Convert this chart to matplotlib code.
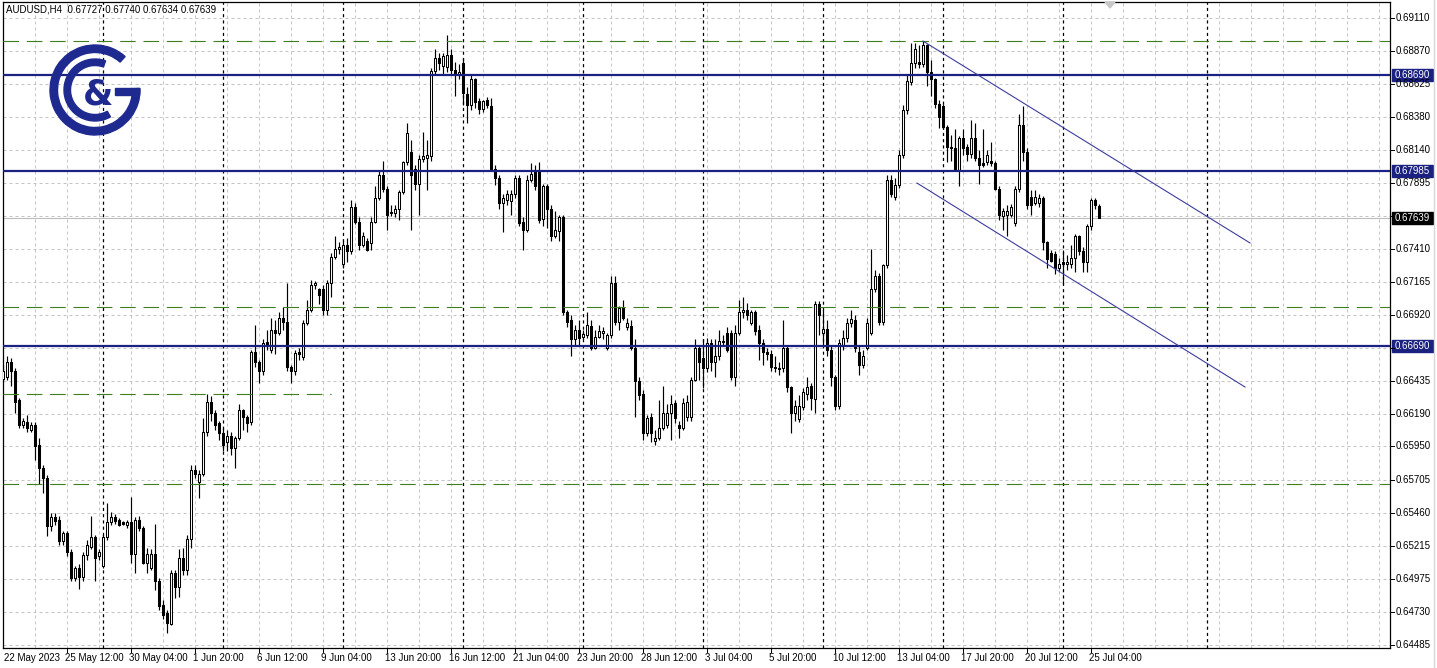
import matplotlib

matplotlib.use("Agg")
import matplotlib.pyplot as plt  # noqa: E402
import numpy as np  # noqa: E402
from matplotlib.collections import PatchCollection  # noqa: E402
from matplotlib.patches import Polygon, Rectangle, Wedge  # noqa: E402

# AUDUSD H4, 22 May 2023 20:00 .. 25 Jul 2023 12:00
opens = [
    0.6645, 0.6646, 0.6657, 0.6651, 0.6629, 0.6611, 0.6613, 0.6607, 0.6611, 0.6596,
    0.6579, 0.6572, 0.6536, 0.6543, 0.6541, 0.6525, 0.6531, 0.6517, 0.6498, 0.6505,
    0.6499, 0.6515, 0.6521, 0.6528, 0.6514, 0.6507, 0.6528, 0.6539, 0.6543, 0.6541,
    0.6539, 0.6537, 0.6539, 0.6516, 0.6541, 0.6535, 0.6509, 0.6505, 0.6516, 0.6496,
    0.6478, 0.6472, 0.6464, 0.6502, 0.6491, 0.6513, 0.6504, 0.6527, 0.6578, 0.6569,
    0.6575, 0.6606, 0.6628, 0.6620, 0.6612, 0.6605, 0.6598, 0.6603, 0.6594, 0.6601,
    0.6622, 0.6617, 0.6613, 0.6665, 0.6657, 0.6651, 0.6672, 0.6666, 0.6681, 0.6679,
    0.6690, 0.6687, 0.6654, 0.6651, 0.6665, 0.6661, 0.6686, 0.6696, 0.6714, 0.6711,
    0.6711, 0.6696, 0.6716, 0.6735, 0.6741, 0.6730, 0.6744, 0.6739, 0.6772, 0.6761,
    0.6744, 0.6747, 0.6745, 0.6761, 0.6778, 0.6795, 0.6785, 0.6768, 0.6767, 0.6770,
    0.6783, 0.6805, 0.6812, 0.6800, 0.6789, 0.6807, 0.6808, 0.6809, 0.6872, 0.6882,
    0.6876, 0.6875, 0.6884, 0.6873, 0.6869, 0.6878, 0.6855, 0.6847, 0.6866, 0.6850,
    0.6844, 0.6851, 0.6846, 0.6800, 0.6793, 0.6775, 0.6777, 0.6776, 0.6781, 0.6793,
    0.6761, 0.6755, 0.6792, 0.6798, 0.6798, 0.6763, 0.6787, 0.6770, 0.6750, 0.6754,
    0.6764, 0.6694, 0.6688, 0.6674, 0.6681, 0.6676, 0.6677, 0.6684, 0.6668, 0.6676,
    0.6679, 0.6668, 0.6677, 0.6716, 0.6687, 0.6697, 0.6683, 0.6684, 0.6668, 0.6643,
    0.6634, 0.6605, 0.6617, 0.6599, 0.6601, 0.6609, 0.6611, 0.6620, 0.6627, 0.6611,
    0.6609, 0.6617, 0.6617, 0.6644, 0.6668, 0.6660, 0.6653, 0.6671, 0.6657, 0.6662,
    0.6672, 0.6679, 0.6679, 0.6646, 0.6679, 0.6694, 0.6696, 0.6686, 0.6694, 0.6681,
    0.6671, 0.6665, 0.6663, 0.6654, 0.6653, 0.6653, 0.6668, 0.6639, 0.6620, 0.6615,
    0.6624, 0.6634, 0.6640, 0.6630, 0.6700, 0.6679, 0.6682, 0.6666, 0.6646, 0.6625,
    0.6670, 0.6675, 0.6686, 0.6688, 0.6665, 0.6655, 0.6668, 0.6679, 0.6711, 0.6721,
    0.6687, 0.6729, 0.6792, 0.6779, 0.6788, 0.6810, 0.6843, 0.6864, 0.6878, 0.6879,
    0.6877, 0.6891, 0.6871, 0.6866, 0.6848, 0.6846, 0.6831, 0.6816, 0.6815, 0.6799,
    0.6823, 0.6816, 0.6811, 0.6823, 0.6808, 0.6804, 0.6805, 0.6806, 0.6804, 0.6785,
    0.6765, 0.6766, 0.6766, 0.6760, 0.6785, 0.6832, 0.6812, 0.6779, 0.6775, 0.6775,
    0.6778, 0.6746, 0.6738, 0.6737, 0.6727, 0.6731, 0.6730, 0.6730, 0.6734, 0.6750,
    0.6739, 0.6731, 0.6758, 0.6777, 0.67727,
]
highs = [
    0.6655, 0.6662, 0.6660, 0.6653, 0.6631, 0.6616, 0.6618, 0.6613, 0.6613, 0.6601,
    0.6581, 0.6574, 0.6546, 0.6546, 0.6544, 0.6533, 0.6533, 0.6519, 0.6507, 0.6508,
    0.6517, 0.6526, 0.6544, 0.6530, 0.6519, 0.6530, 0.6553, 0.6547, 0.6545, 0.6542,
    0.6540, 0.6541, 0.6558, 0.6543, 0.6544, 0.6536, 0.6520, 0.6519, 0.6538, 0.6498,
    0.6482, 0.6474, 0.6504, 0.6504, 0.6519, 0.6520, 0.6530, 0.6581, 0.6581, 0.6578,
    0.6616, 0.6634, 0.6632, 0.6622, 0.6614, 0.6609, 0.6607, 0.6606, 0.6603, 0.6626,
    0.6623, 0.6618, 0.6666, 0.6685, 0.6659, 0.6674, 0.6681, 0.6690, 0.6688, 0.6694,
    0.6698, 0.6716, 0.6655, 0.6666, 0.6668, 0.6688, 0.6703, 0.6718, 0.6717, 0.6712,
    0.6714, 0.6718, 0.6738, 0.6750, 0.6746, 0.6747, 0.6749, 0.6777, 0.6775, 0.6764,
    0.6753, 0.6749, 0.6764, 0.6787, 0.6798, 0.6806, 0.6787, 0.6773, 0.6773, 0.6784,
    0.6806, 0.6834, 0.6821, 0.6803, 0.6810, 0.6827, 0.6821, 0.6874, 0.6888, 0.6885,
    0.6885, 0.6899, 0.6888, 0.6879, 0.6877, 0.6882, 0.6860, 0.6869, 0.6867, 0.6852,
    0.6851, 0.6853, 0.6852, 0.6803, 0.6795, 0.6781, 0.6784, 0.6784, 0.6795, 0.6795,
    0.6764, 0.6795, 0.6804, 0.6803, 0.6805, 0.6789, 0.6789, 0.6773, 0.6769, 0.6766,
    0.6766, 0.6696, 0.6692, 0.6685, 0.6688, 0.6681, 0.6694, 0.6688, 0.6681, 0.6685,
    0.6683, 0.6679, 0.6721, 0.6721, 0.6699, 0.6703, 0.6690, 0.6688, 0.6674, 0.6646,
    0.6637, 0.6618, 0.6620, 0.6607, 0.6629, 0.6640, 0.6626, 0.6633, 0.6629, 0.6614,
    0.6631, 0.6633, 0.6646, 0.6674, 0.6670, 0.6674, 0.6675, 0.6674, 0.6674, 0.6681,
    0.6677, 0.6683, 0.6681, 0.6685, 0.6703, 0.6705, 0.6701, 0.6696, 0.6696, 0.6685,
    0.6674, 0.6668, 0.6666, 0.6662, 0.6657, 0.6688, 0.6670, 0.6640, 0.6629, 0.6633,
    0.6638, 0.6646, 0.6642, 0.6702, 0.6702, 0.6696, 0.6688, 0.6670, 0.6648, 0.6674,
    0.6681, 0.6690, 0.6696, 0.6692, 0.6670, 0.6666, 0.6690, 0.6741, 0.6725, 0.6723,
    0.6730, 0.6795, 0.6795, 0.6793, 0.6814, 0.6847, 0.6869, 0.6893, 0.6893, 0.6891,
    0.6894, 0.6892, 0.6880, 0.6867, 0.6851, 0.6848, 0.6832, 0.6825, 0.6829, 0.6824,
    0.6829, 0.6818, 0.6836, 0.6834, 0.6814, 0.6829, 0.6814, 0.6820, 0.6806, 0.6787,
    0.6771, 0.6773, 0.6774, 0.6787, 0.6840, 0.6846, 0.6815, 0.6784, 0.6784, 0.6781,
    0.6780, 0.6747, 0.6740, 0.6739, 0.6734, 0.6740, 0.6736, 0.6744, 0.6752, 0.6751,
    0.6742, 0.6759, 0.6778, 0.6778, 0.67740,
]
lows = [
    0.6643, 0.6644, 0.6640, 0.6620, 0.6609, 0.6609, 0.6606, 0.6606, 0.6585, 0.6567,
    0.6561, 0.6529, 0.6533, 0.6537, 0.6522, 0.6522, 0.6514, 0.6496, 0.6496, 0.6490,
    0.6496, 0.6511, 0.6519, 0.6496, 0.6511, 0.6505, 0.6526, 0.6537, 0.6538, 0.6536,
    0.6537, 0.6535, 0.6509, 0.6502, 0.6533, 0.6508, 0.6502, 0.6504, 0.6489, 0.6474,
    0.6468, 0.6457, 0.6463, 0.6483, 0.6484, 0.6500, 0.6500, 0.6520, 0.6572, 0.6557,
    0.6573, 0.6603, 0.6614, 0.6607, 0.6600, 0.6592, 0.6592, 0.6589, 0.6579, 0.6600,
    0.6607, 0.6606, 0.6611, 0.6654, 0.6642, 0.6648, 0.6666, 0.6664, 0.6663, 0.6677,
    0.6681, 0.6651, 0.6642, 0.6648, 0.6659, 0.6659, 0.6685, 0.6694, 0.6711, 0.6700,
    0.6692, 0.6692, 0.6705, 0.6733, 0.6737, 0.6727, 0.6731, 0.6737, 0.6759, 0.6740,
    0.6742, 0.6739, 0.6740, 0.6760, 0.6777, 0.6783, 0.6755, 0.6765, 0.6764, 0.6762,
    0.6781, 0.6803, 0.6755, 0.6784, 0.6766, 0.6805, 0.6784, 0.6806, 0.6869, 0.6873,
    0.6870, 0.6871, 0.6869, 0.6854, 0.6866, 0.6847, 0.6834, 0.6843, 0.6845, 0.6840,
    0.6842, 0.6845, 0.6798, 0.6788, 0.6770, 0.6753, 0.6773, 0.6766, 0.6778, 0.6758,
    0.6740, 0.6753, 0.6790, 0.6784, 0.6760, 0.6758, 0.6756, 0.6747, 0.6749, 0.6747,
    0.6692, 0.6683, 0.6662, 0.6670, 0.6670, 0.6674, 0.6675, 0.6666, 0.6667, 0.6675,
    0.6674, 0.6666, 0.6675, 0.6685, 0.6681, 0.6688, 0.6681, 0.6666, 0.6617, 0.6629,
    0.6600, 0.6603, 0.6598, 0.6596, 0.6600, 0.6607, 0.6609, 0.6600, 0.6612, 0.6601,
    0.6607, 0.6614, 0.6614, 0.6643, 0.6644, 0.6638, 0.6650, 0.6651, 0.6646, 0.6659,
    0.6670, 0.6665, 0.6644, 0.6640, 0.6677, 0.6690, 0.6688, 0.6685, 0.6677, 0.6659,
    0.6655, 0.6659, 0.6651, 0.6650, 0.6648, 0.6650, 0.6635, 0.6605, 0.6614, 0.6613,
    0.6622, 0.6629, 0.6622, 0.6620, 0.6677, 0.6670, 0.6662, 0.6640, 0.6622, 0.6623,
    0.6666, 0.6672, 0.6683, 0.6665, 0.6648, 0.6653, 0.6666, 0.6677, 0.6709, 0.6685,
    0.6685, 0.6727, 0.6779, 0.6777, 0.6786, 0.6808, 0.6840, 0.6862, 0.6874, 0.6874,
    0.6875, 0.6861, 0.6854, 0.6845, 0.6830, 0.6829, 0.6805, 0.6806, 0.6798, 0.6787,
    0.6810, 0.6806, 0.6808, 0.6806, 0.6789, 0.6801, 0.6803, 0.6802, 0.6784, 0.6762,
    0.6755, 0.6750, 0.6764, 0.6758, 0.6783, 0.6806, 0.6770, 0.6766, 0.6773, 0.6772,
    0.6740, 0.6727, 0.6731, 0.6722, 0.6724, 0.6715, 0.6725, 0.6727, 0.6724, 0.6736,
    0.6724, 0.6724, 0.6755, 0.6770, 0.67634,
]
closes = [
    0.6651, 0.6657, 0.6651, 0.6628, 0.6611, 0.6614, 0.6609, 0.6611, 0.6595, 0.6579,
    0.6572, 0.6536, 0.6543, 0.6540, 0.6525, 0.6531, 0.6517, 0.6498, 0.6505, 0.6499,
    0.6515, 0.6522, 0.6528, 0.6513, 0.6517, 0.6528, 0.6539, 0.6543, 0.6540, 0.6537,
    0.6538, 0.6539, 0.6516, 0.6541, 0.6535, 0.6509, 0.6516, 0.6516, 0.6496, 0.6477,
    0.6471, 0.6465, 0.6502, 0.6491, 0.6513, 0.6504, 0.6527, 0.6578, 0.6575, 0.6575,
    0.6606, 0.6628, 0.6620, 0.6611, 0.6605, 0.6596, 0.6603, 0.6594, 0.6601, 0.6622,
    0.6617, 0.6612, 0.6665, 0.6657, 0.6651, 0.6671, 0.6670, 0.6681, 0.6679, 0.6690,
    0.6687, 0.6654, 0.6651, 0.6664, 0.6663, 0.6686, 0.6696, 0.6714, 0.6716, 0.6707,
    0.6696, 0.6716, 0.6735, 0.6741, 0.6742, 0.6744, 0.6739, 0.6772, 0.6761, 0.6744,
    0.6750, 0.6740, 0.6761, 0.6778, 0.6795, 0.6785, 0.6766, 0.6767, 0.6770, 0.6783,
    0.6805, 0.6826, 0.6795, 0.6789, 0.6807, 0.6809, 0.6810, 0.6872, 0.6882, 0.6878,
    0.6883, 0.6884, 0.6873, 0.6870, 0.6871, 0.6856, 0.6847, 0.6866, 0.6849, 0.6844,
    0.6850, 0.6847, 0.6800, 0.6793, 0.6775, 0.6778, 0.6781, 0.6781, 0.6793, 0.6760,
    0.6755, 0.6792, 0.6796, 0.6787, 0.6762, 0.6787, 0.6770, 0.6750, 0.6755, 0.6764,
    0.6694, 0.6687, 0.6674, 0.6681, 0.6675, 0.6678, 0.6685, 0.6668, 0.6676, 0.6680,
    0.6680, 0.6677, 0.6716, 0.6687, 0.6697, 0.6690, 0.6686, 0.6668, 0.6643, 0.6633,
    0.6605, 0.6616, 0.6605, 0.6601, 0.6609, 0.6620, 0.6620, 0.6626, 0.6616, 0.6609,
    0.6627, 0.6628, 0.6644, 0.6668, 0.6657, 0.6653, 0.6671, 0.6657, 0.6662, 0.6673,
    0.6673, 0.6666, 0.6646, 0.6679, 0.6694, 0.6696, 0.6692, 0.6694, 0.6680, 0.6671,
    0.6665, 0.6663, 0.6654, 0.6653, 0.6652, 0.6668, 0.6639, 0.6620, 0.6625, 0.6625,
    0.6635, 0.6639, 0.6631, 0.6700, 0.6692, 0.6682, 0.6666, 0.6646, 0.6625, 0.6671,
    0.6675, 0.6686, 0.6689, 0.6668, 0.6655, 0.6662, 0.6686, 0.6711, 0.6721, 0.6687,
    0.6729, 0.6792, 0.6781, 0.6788, 0.6810, 0.6843, 0.6865, 0.6878, 0.6888, 0.6877,
    0.6891, 0.6871, 0.6866, 0.6848, 0.6838, 0.6831, 0.6816, 0.6815, 0.6799, 0.6823,
    0.6815, 0.6811, 0.6823, 0.6808, 0.6803, 0.6803, 0.6810, 0.6804, 0.6785, 0.6766,
    0.6769, 0.6769, 0.6772, 0.6785, 0.6832, 0.6812, 0.6773, 0.6773, 0.6779, 0.6778,
    0.6746, 0.6733, 0.6732, 0.6727, 0.6730, 0.6730, 0.6731, 0.6734, 0.6750, 0.6739,
    0.6731, 0.6758, 0.6777, 0.6773, 0.67639,
]

date_labels = ["22 May 2023", "25 May 12:00", "30 May 04:00", "1 Jun 20:00", "6 Jun 12:00",
               "9 Jun 04:00", "13 Jun 20:00", "16 Jun 12:00", "21 Jun 04:00", "23 Jun 20:00",
               "28 Jun 12:00", "3 Jul 04:00", "5 Jul 20:00", "10 Jul 12:00", "13 Jul 04:00",
               "17 Jul 20:00", "20 Jul 12:00", "25 Jul 04:00"]
price_grid = [0.69110, 0.68870, 0.68625, 0.68380, 0.68140, 0.67895, 0.67650, 0.67410,
              0.67165, 0.66920, 0.66680, 0.66435, 0.66190, 0.65950, 0.65705, 0.65460,
              0.65215, 0.64975, 0.64730, 0.64485]
hidden_grid_labels = [0.67650, 0.66680]
levels = [0.68690, 0.67985, 0.66690]          # solid navy horizontal lines
dashed_levels = [0.68940, 0.66978, 0.65673]   # green dashed lines
short_dashed = 0.66337                        # short green dashed segment on the left
last_price = 0.67639
# channel: (bar, price) end points
chan_upper = [(230.0, 0.68942), (311.75, 0.67452)]
chan_lower = [(228.5, 0.67894), (310.5, 0.66389)]

W, H = 1437, 668
NAVY = "#1b2180"
LOGO = "#1f2a90"
GREEN = "#3f7f1f"
GRID = "#c4c4c4"

fig = plt.figure(figsize=(W / 100, H / 100), dpi=100)
fig.patch.set_facecolor("white")
ax = fig.add_axes([2.5 / W, (H - 648) / H, (1390 - 2.5) / W, (648 - 2) / H])
ax.set_xlim(-0.125, 346.75)
ax.set_ylim(0.64463, 0.69230)
ax.set_xticks([])
ax.set_yticks([])
for s in ax.spines.values():
    s.set_linewidth(0.9)
    s.set_color("black")

n = len(closes)
x = np.arange(n)

# grid
for gx in range(0, 347, 8):
    ax.axvline(gx, color=GRID, lw=0.72, dashes=(3, 3), zorder=0)
for gy in price_grid:
    ax.axhline(gy, color=GRID, lw=0.72, dashes=(3, 3), zorder=0)

# weekly separators
for sx in list(range(25, 270, 30)) + [301]:
    ax.axvline(sx, color="black", lw=0.9, dashes=(2.5, 2.5), zorder=1)

# bid line
ax.axhline(last_price, color="#bdbdbd", lw=0.8, zorder=1)

# candles
o = np.array(opens)
c = np.array(closes)
ax.vlines(x, lows, highs, color="black", lw=0.85, zorder=3)
up_rects, dn_rects = [], []
for xi, oi, ci in zip(x, o, c):
    lo, hi = min(oi, ci), max(oi, ci)
    r = Rectangle((xi - 0.25, lo), 0.5, max(hi - lo, 0.00002))
    (up_rects if ci >= oi else dn_rects).append(r)
ax.add_collection(PatchCollection(up_rects, facecolor="white", edgecolor="black",
                                  linewidth=0.75, zorder=4))
ax.add_collection(PatchCollection(dn_rects, facecolor="black", edgecolor="black",
                                  linewidth=0.75, zorder=4))

# levels
for lv in levels:
    ax.axhline(lv, color=NAVY, lw=1.6, zorder=5)
for dl in dashed_levels:
    ax.axhline(dl, color=GREEN, lw=0.8, dashes=(14, 7), zorder=5)
ax.plot([-0.125, 82], [short_dashed, short_dashed], color=GREEN, lw=0.8,
        dashes=(14, 7), zorder=5)
for ch in (chan_upper, chan_lower):
    ax.plot([ch[0][0], ch[1][0]], [ch[0][1], ch[1][1]], color="#3d3d9e", lw=0.8, zorder=5)

# price axis
ymin, ymax = ax.get_ylim()


def ypix(p):
    return (p - ymin) / (ymax - ymin) * (648 - 2) + (H - 648)


fs = 7
for gy in price_grid:
    yy = ypix(gy) / H
    fig.add_artist(plt.Line2D([1390 / W, 1394 / W], [yy, yy], color="black", lw=0.7))
    if gy in hidden_grid_labels:
        continue
    fig.text(1396 / W, yy, f"{gy:.5f}", fontsize=fs, family="Liberation Sans",
             va="center", ha="left")

for lv, bg in [(0.68690, NAVY), (0.67985, NAVY), (0.66690, NAVY), (last_price, "black")]:
    yy = ypix(lv) / H
    fig.add_artist(Rectangle((1392 / W, yy - 6 / H), 41 / W, 12 / H, color=bg,
                             transform=fig.transFigure))
    fig.text(1395 / W, yy, f"{lv:.5f}", fontsize=fs, family="Liberation Sans",
             color="white", va="center", ha="left")

fig.add_artist(plt.Line2D([1434 / W, 1434 / W], [0, 1], color="#d8d8d8", lw=1))

# time axis
fig.text(4 / W, (H - 658) / H, date_labels[0], fontsize=fs, family="Liberation Sans",
         va="center", ha="left")
for k, lab in enumerate(date_labels[1:]):
    bx = 16 + 16 * k
    px = 3 + 4 * bx
    fig.add_artist(plt.Line2D([px / W, px / W], [(H - 648) / H, (H - 652) / H],
                              color="black", lw=0.7))
    fig.text((px - 2) / W, (H - 658) / H, lab, fontsize=fs, family="Liberation Sans",
             va="center", ha="left")

# header
fig.text(6 / W, (H - 10) / H, "AUDUSD,H4  0.67727 0.67740 0.67634 0.67639", fontsize=fs,
         family="Liberation Sans", va="center", ha="left")

# chart shift marker
fig.add_artist(Polygon([[1105 / W, (H - 2) / H], [1115 / W, (H - 2) / H],
                        [1110 / W, (H - 8) / H]], closed=True, color="#c8c8c8",
                       transform=fig.transFigure))

# logo: outer "G" ring with bar, inner "C" ring, "&" in the middle
lg = fig.add_axes([40 / W, (H - 145) / H, 110 / W, 110 / H])
lg.set_xlim(40, 150)
lg.set_ylim(H - 145, H - 35)
lg.set_aspect("equal")
lg.axis("off")
cx, cy = 95, H - 90
lg.add_patch(Wedge((cx, cy), 45, 48, 362, width=7.5, color=LOGO))
lg.add_patch(Rectangle((cx + 20, cy - 5.5), 24, 7, color=LOGO))
lg.add_patch(Wedge((cx, cy), 31, 70, 300, width=6.5, color=LOGO))
lg.text(cx + 3, cy - 5, "&", fontsize=25, fontweight="bold", color=LOGO,
        ha="center", va="center", family="DejaVu Sans")

fig.savefig("out.png", dpi=100)
